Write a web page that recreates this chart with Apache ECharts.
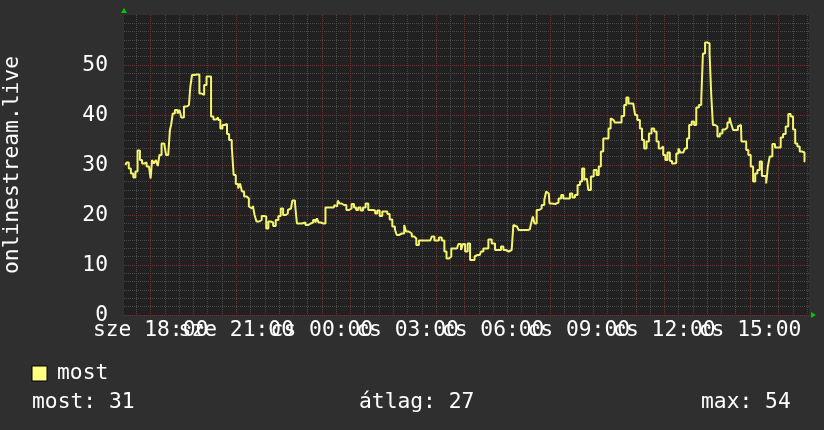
<!DOCTYPE html>
<html><head><meta charset="utf-8">
<script src="https://cdn.jsdelivr.net/npm/echarts@6/dist/echarts.min.js"></script>
<style>html,body{margin:0;padding:0;background:#2f2f2f}#c{width:824px;height:430px}</style>
</head><body><div id="c"></div>
<script>
// minutes relative to Wednesday 18:00
const minutes = [-53,-48,-44,-39,-34,-30,-25,-20,-16,-11,-6,-1,1,5,9,13,17,20,26,31,34,40,41,45,48,54,59,62,67,73,79,82,85,89,94,101,104,110,115,120,125,129,135,140,144,149,153,159,162,168,173,176,182,186,190,194,199,205,208,213,217,220,225,231,236,241,245,250,255,260,266,271,276,281,287,290,295,301,306,309,318,322,329,334,339,344,348,351,355,360,366,369,378,385,388,392,395,399,404,409,414,420,425,430,434,439,444,449,455,460,465,470,474,479,484,490,495,500,505,511,516,519,525,531,535,539,546,552,556,561,567,581,588,594,599,603,609,615,620,624,630,634,638,644,650,655,658,664,669,674,679,683,687,692,697,702,707,713,721,727,734,739,744,749,756,762,763,770,777,788,797,802,805,809,814,819,825,830,833,837,840,847,854,861,865,870,875,879,884,889,895,900,905,909,914,917,923,928,935,940,944,949,954,960,965,969,973,979,987,993,998,1002,1007,1012,1017,1020,1026,1031,1035,1040,1045,1050,1056,1061,1066,1070,1075,1080,1084,1089,1094,1098,1103,1107,1112,1115,1120,1126,1129,1135,1140,1145,1149,1156,1159,1163,1168,1173,1177,1180,1184,1189,1194,1199,1205,1210,1215,1219,1222,1227,1233,1236,1241,1243,1250,1254,1259,1264,1269,1273,1278,1283,1287,1292,1296,1299,1304,1310,1315,1322,1327,1332,1338,1343,1348,1353,1357,1362,1367,1373,1376];
const values = [30,30.5,29.3,28.3,27.5,28.7,32.9,31,30.3,30.5,29.7,30,27.3,31,30.3,31,29.8,32,34.3,34.7,32,32,37,38,40.3,41,40.3,41,39.5,41.7,42,42,45.7,48,48.1,48.1,44.3,44,46,47.7,47.7,39.7,39.1,39.5,39,37.3,38,38.2,36.2,35,33.8,28,26.2,25.3,26.3,24.7,23.7,23.3,21.7,21.3,21.8,20,18.7,19,19.8,19.7,17.3,18.7,18.5,17.8,19,19.8,21.3,20,20.3,21,21.3,22.9,22.3,18.3,18.3,18.5,18,18.3,18.5,19,18.5,19.3,18.5,18.3,18.3,21.5,21.5,21.5,22,21.7,22.9,22.3,22,22,21,21.3,22.2,21.5,21,21.5,20.9,21.5,22.3,21,21,20.9,20.3,20.9,19.8,20.7,20.7,20.2,19.1,17.7,17.1,16,16.3,16.3,18,16.7,16.3,15.7,15.3,14,14.9,14.9,14.9,15.7,14.9,14.9,15.5,14.9,12.7,11.3,11.7,13.3,13.3,13.3,14.2,13,14.2,12.7,14.3,11,11,11.7,12,12,12.7,13.3,13.3,15.1,14.3,13,13,13.7,13,12.7,13,12.7,18,17.7,17,17,17.1,18.2,19.7,18.3,21,21.3,22,23,24.7,24.3,22.3,22.2,22.5,23.3,24,23.3,23.3,23.3,24.3,23.5,24,26,26.7,29.3,27,27.3,25,27.7,29,28,29.7,32.7,35.3,35.3,37.3,39.3,39,38.5,38.5,39.8,42,43.5,42.3,42.3,42.5,40,39,37.3,35,33.3,34.7,36.3,37.3,36.7,34.7,33.3,33.7,32,31,32.5,30.8,30.3,30.4,32.3,33.3,32.5,32.5,33.3,35.3,38,38.7,38,41.5,42,43,52.3,54.5,54.3,52.3,44,38,37.7,35.7,36.3,37.1,37.5,38.5,39.5,38.2,37,37,37.7,38,34.7,34.7,33,32,29.7,26.7,28.3,29,30.7,27.8,27.8,26.3,29.7,31.7,34.2,33.5,33.5,35.5,36.2,37.7,40.2,39.7,37.1,34.3,33.7,32.7,32.5,30.7];
const xLabelMinutes = [0,180,360,540,720,900,1080,1260];
const xLabelTexts = ['sze 18:00','sze 21:00','cs 00:00','cs 03:00','cs 06:00','cs 09:00','cs 12:00','cs 15:00'];
const yMajorTicks = [0,10,20,30,40,50];
const seriesName = 'most';
const yTitle = 'onlinestream.live';
const statLabels = ['most:', 'átlag:', 'max:'];
const statValues = [31, 27, 54];

const X_MIN = -56, X_MAX = 1384;
const hourLines = []; for (let m = 0; m <= X_MAX; m += 60) hourLines.push(m);
const halfHourLines = []; for (let m = -30; m <= X_MAX; m += 60) halfHourLines.push(m);
const yMinorTicks = []; for (let k = 0; k < 36; k++) if (k % 6) yMinorTicks.push(k * 10 / 6);
// labels split over two axes so no label gets auto-hidden for overlapping
const labelsEven = xLabelMinutes.filter((_, i) => i % 2 === 0);
const labelsOdd = xLabelMinutes.filter((_, i) => i % 2 === 1);

const FONT = 'DejaVu Sans Mono';
const FS = 21.3;
const TXT = '#ffffff';
const RED = '#6e3232';
const GRAY = '#4a4a4a';

const labelFmt = v => xLabelTexts[xLabelMinutes.indexOf(v)] || '';
function labelAxis(vals) {
  return {show: true, customValues: vals, margin: 5, color: TXT, fontFamily: FONT, fontSize: FS,
          hideOverlap: false, showMinLabel: true, showMaxLabel: true, formatter: labelFmt};
}

const chart = echarts.init(document.getElementById('c'), null, {renderer: 'canvas'});
const G = {left: 124, top: 15, width: 685, height: 300};
chart.setOption({
  animation: false,
  backgroundColor: '#2f2f2f',
  grid: {left: G.left, top: G.top, width: G.width, height: G.height, show: true, backgroundColor: '#212121', borderWidth: 0,
         containLabel: false, outerBoundsMode: 'none'},
  xAxis: [
    {type: 'value', position: 'bottom', min: X_MIN, max: X_MAX, axisLine: {show: false},
     axisTick: {show: false, customValues: halfHourLines}, axisLabel: {show: false},
     splitLine: {show: true, lineStyle: {color: GRAY, width: 1, type: [1, 1]}}},
    {type: 'value', position: 'bottom', min: X_MIN, max: X_MAX, axisLine: {show: false},
     axisTick: {show: false, customValues: hourLines},
     axisLabel: labelAxis(labelsEven),
     splitLine: {show: true, lineStyle: {color: RED, width: 1, type: [1, 1]}}},
    {type: 'value', position: 'bottom', min: X_MIN, max: X_MAX, axisLine: {show: false},
     axisTick: {show: false, customValues: labelsOdd},
     axisLabel: labelAxis(labelsOdd),
     splitLine: {show: false}}
  ],
  yAxis: [
    {type: 'value', position: 'left', min: 0, max: 60, axisLine: {show: false},
     axisTick: {show: false, customValues: yMinorTicks}, axisLabel: {show: false},
     splitLine: {show: true, lineStyle: {color: GRAY, width: 1, type: [1, 1]}}},
    {type: 'value', position: 'left', min: 0, max: 60, axisLine: {show: false},
     axisTick: {show: false, customValues: yMajorTicks},
     axisLabel: {show: true, customValues: yMajorTicks, margin: 16, color: TXT, fontFamily: FONT, fontSize: FS,
       showMinLabel: true, showMaxLabel: true},
     splitLine: {show: true, lineStyle: {color: RED, width: 1, type: [1, 1]}}}
  ],
  series: [{
    name: seriesName, type: 'line', xAxisIndex: 0, yAxisIndex: 0,
    step: 'middle', showSymbol: false, silent: true,
    lineStyle: {color: '#f4f46e', width: 2},
    data: minutes.map((m, i) => [m, values[i]])
  }],
  graphic: [
    {type: 'polygon', shape: {points: [[121, 13], [127, 13], [124, 8]]}, style: {fill: '#00c800'}},
    {type: 'polygon', shape: {points: [[811, 312], [811, 318], [816, 315]]}, style: {fill: '#00c800'}},
    {type: 'text', x: 12, y: 165, rotation: Math.PI / 2,
     style: {text: yTitle, fill: TXT, font: FS + 'px "' + FONT + '"', align: 'center', verticalAlign: 'middle'}},
    {type: 'rect', shape: {x: 32, y: 366, width: 15, height: 15}, style: {fill: '#ffff80', stroke: '#000000', lineWidth: 1}},
    {type: 'text', x: 57, y: 373, style: {text: seriesName, fill: TXT, font: FS + 'px "' + FONT + '"', verticalAlign: 'middle'}},
    {type: 'text', x: 32, y: 402, style: {text: statLabels[0] + ' ' + statValues[0], fill: TXT, font: FS + 'px "' + FONT + '"', verticalAlign: 'middle'}},
    {type: 'text', x: 359, y: 402, style: {text: statLabels[1] + ' ' + statValues[1], fill: TXT, font: FS + 'px "' + FONT + '"', verticalAlign: 'middle'}},
    {type: 'text', x: 701, y: 402, style: {text: statLabels[2] + ' ' + statValues[2], fill: TXT, font: FS + 'px "' + FONT + '"', verticalAlign: 'middle'}}
  ]
});
</script></body></html>
